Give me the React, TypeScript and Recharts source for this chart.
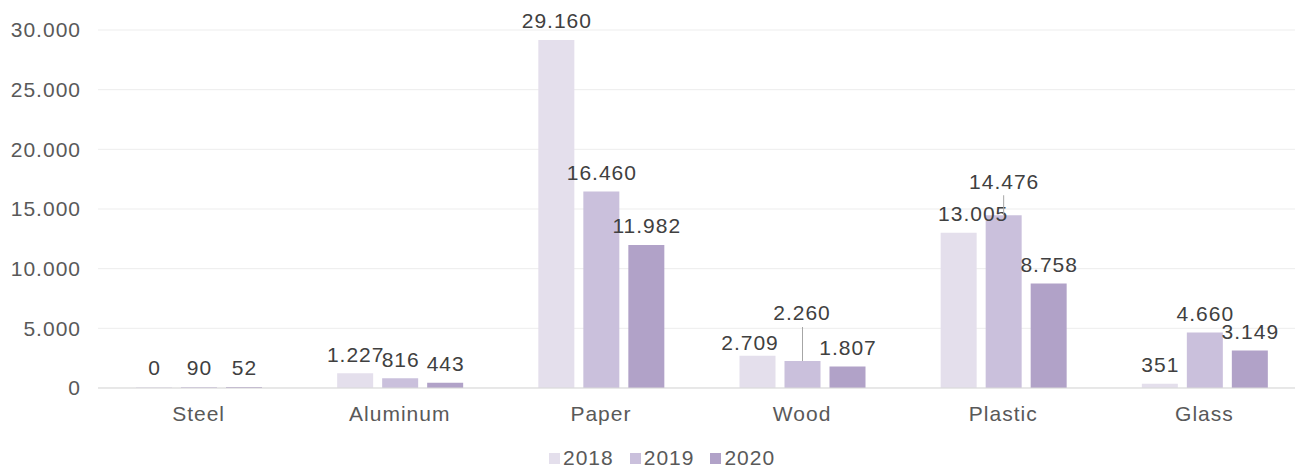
import React from 'react';
import { BarChart, Bar, XAxis, YAxis, CartesianGrid, Legend, LabelList } from 'recharts';

const categories = ['Steel', 'Aluminum', 'Paper', 'Wood', 'Plastic', 'Glass'];
const values2018 = [0, 1227, 29160, 2709, 13005, 351];
const values2019 = [90, 816, 16460, 2260, 14476, 4660];
const values2020 = [52, 443, 11982, 1807, 8758, 3149];
const yTicks = [0, 5000, 10000, 15000, 20000, 25000, 30000];
const seriesNames = ['2018', '2019', '2020'];
const colors = ['#e4dfec', '#cac0dc', '#b1a2c8'];

const data = categories.map((c, i) => ({
  category: c,
  '2018': values2018[i],
  '2019': values2019[i],
  '2020': values2020[i],
}));

const labelNudges: Record<string, { dx: number; dy: number; leader?: boolean }> = {
  '2018|Wood': { dx: -8, dy: 6 },
  '2019|Wood': { dx: -1, dy: -29, leader: true },
  '2018|Plastic': { dx: 14, dy: 0 },
  '2019|Plastic': { dx: 0, dy: -15, leader: true },
};

const FONT = '"Liberation Sans", Arial, sans-serif';
const LS = 1;

const fmt = (v: number) => String(Math.round(v)).replace(/\B(?=(\d{3})+(?!\d))/g, '.');

const makeLabel = (series: string) => (props: any) => {
  const { x, y, width, value, index } = props;
  const key = `${series}|${categories[index]}`;
  const n = labelNudges[key] || { dx: 0, dy: 0 };
  const bx = Number(x) + Number(width) / 2;
  const cx = bx + n.dx;
  const cy = Number(y) - 19 + n.dy;
  return (
    <g>
      {n.leader && (
        <line x1={bx} x2={bx} y1={cy + 14} y2={Number(y)} stroke="#a6a6a6" strokeWidth={1} />
      )}
      <text
        x={cx + LS / 2}
        y={cy}
        dy="0.355em"
        textAnchor="middle"
        fontSize={21}
        letterSpacing={LS}
        fill="#404040"
        fontFamily={FONT}
      >
        {fmt(Number(value))}
      </text>
    </g>
  );
};

const LegendContent = () => (
  <div
    style={{
      display: 'flex',
      alignItems: 'center',
      height: 24,
      fontFamily: FONT,
      fontSize: 21,
      letterSpacing: LS,
      color: '#595959',
    }}
  >
    {seriesNames.map((s, i) => (
      <div key={s} style={{ display: 'flex', alignItems: 'center', marginRight: 16 }}>
        <span style={{ display: 'inline-block', width: 11, height: 11, background: colors[i], marginRight: 3 }} />
        <span>{s}</span>
      </div>
    ))}
  </div>
);

export default function App() {
  return (
    <div style={{ position: 'absolute', left: 0, top: 0, background: '#fff' }}>
      <BarChart
        width={1305}
        height={467}
        data={data}
        margin={{ top: 30, right: 0, bottom: 15, left: 0 }}
        barSize={36}
        barGap={9}
      >
        <CartesianGrid vertical={false} stroke="#ededed" />
        <XAxis
          dataKey="category"
          tickLine={false}
          axisLine={{ stroke: '#d9d9d9' }}
          tick={{ fontSize: 21, fill: '#595959', fontFamily: FONT, letterSpacing: LS }}
          tickMargin={12}
          height={40}
          interval={0}
        />
        <YAxis
          domain={[0, 30000]}
          ticks={yTicks}
          axisLine={false}
          tickLine={false}
          tickFormatter={fmt}
          tick={{ fontSize: 21, fill: '#595959', fontFamily: FONT, letterSpacing: LS }}
          tickMargin={11}
          width={98}
        />
        <Legend
          verticalAlign="bottom"
          content={<LegendContent />}
          wrapperStyle={{ top: 446, left: 549, width: 280, height: 24 }}
        />
        {seriesNames.map((s, i) => (
          <Bar key={s} dataKey={s} fill={colors[i]} isAnimationActive={false} minPointSize={1}>
            <LabelList dataKey={s} content={makeLabel(s)} />
          </Bar>
        ))}
      </BarChart>
    </div>
  );
}
